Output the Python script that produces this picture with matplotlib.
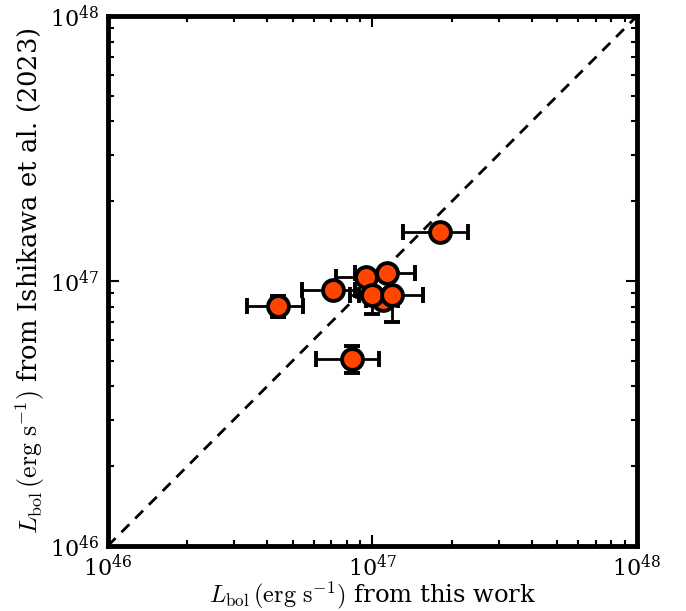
import matplotlib
matplotlib.use("Agg")
import matplotlib.pyplot as plt
import numpy as np

plt.rcParams['font.family'] = ['DejaVu Serif']
plt.rcParams['mathtext.fontset'] = 'cm'

# data (erg/s)
x_this = [1.80e47, 1.14e47, 9.5e46, 7.1e46, 1.00e47, 1.19e47, 4.41e46, 8.39e46, 1.10e47]
x_err_lo = [0.49e47, 0.28e47, 2.2e46, 1.66e46, 1.78e46, 0.30e47, 1.05e46, 2.24e46, 1.5e46]
x_err_hi = [0.50e47, 0.31e47, 2.2e46, 1.48e46, 1.78e46, 0.36e47, 1.05e46, 2.19e46, 1.5e46]
y_ish = [1.53e47, 1.07e47, 1.037e47, 9.25e46, 8.85e46, 8.85e46, 8.05e46, 5.08e46, 8.48e46]
y_err_lo = [0.05e47, 0.08e46, 0.6e46, 0.5e46, 1.35e46, 1.83e46, 0.76e46, 0.59e46, 0.5e46]
y_err_hi = [0.05e47, 0.09e46, 0.6e46, 0.5e46, 1.35e46, 1.83e46, 0.76e46, 0.61e46, 0.5e46]

fig = plt.figure(figsize=(6.86, 6.11), dpi=100)
ax = fig.add_axes([0.157, 0.1064, 0.7716, 0.8674])

lims = [1e46, 1e48]
ax.plot(lims, lims, ls='--', color='k', lw=2, dashes=(4, 3), zorder=1)

order = [8, 0, 1, 2, 3, 4, 5, 6, 7]
for i in order:
    ax.errorbar(x_this[i], y_ish[i],
                xerr=[[x_err_lo[i]], [x_err_hi[i]]],
                yerr=[[y_err_lo[i]], [y_err_hi[i]]],
                fmt='o', ms=15, mfc='#ff4500', mec='k', mew=2.8,
                ecolor='k', elinewidth=2, capsize=5.5, capthick=2.2, zorder=3)

ax.set_xscale('log')
ax.set_yscale('log')
ax.set_xlim(lims)
ax.set_ylim(lims)

for s in ax.spines.values():
    s.set_linewidth(3.5)
ax.tick_params(which='both', direction='in', top=True, right=True)
ax.tick_params(which='major', length=8, width=1.5, labelsize=16, pad=6)
ax.tick_params(which='minor', length=4, width=1.5)

ax.set_xlabel(r'$L_{\rm bol}\,({\rm erg\ s^{-1}})$ from this work', fontsize=17.5, labelpad=-1)
ax.set_ylabel(r'$L_{\rm bol}\,({\rm erg\ s^{-1}})$ from Ishikawa et al. (2023)', fontsize=18.5, labelpad=2)

fig.savefig('out.png', dpi=100)
